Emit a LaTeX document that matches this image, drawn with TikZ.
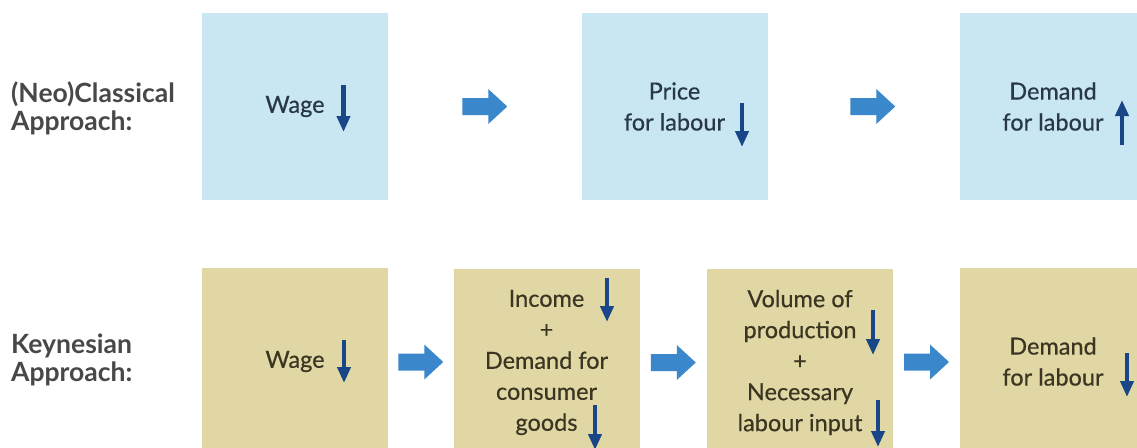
\documentclass[tikz,border=0pt]{standalone}
\usepackage{fontspec}
\setmainfont{Lato}
\newfontfamily\boxfont[FakeBold=0.5]{Lato}
\usetikzlibrary{calc,arrows.meta}
\definecolor{boxblue}{RGB}{201,230,243}
\definecolor{boxtan}{RGB}{224,215,164}
\definecolor{arrblue}{RGB}{58,135,204}
\definecolor{navy}{RGB}{24,70,135}
\definecolor{txtblue}{RGB}{40,56,72}
\definecolor{txttan}{RGB}{58,54,34}
\definecolor{lblgray}{RGB}{72,72,72}
\begin{document}
\begin{tikzpicture}[x=1pt,y=-1pt,
  box/.style={rectangle, minimum width=186pt, minimum height=187pt, inner sep=0pt,
    align=center, font=\boxfont\fontsize{23.5}{31}\selectfont},
  neobox/.style={box, fill=boxblue, text=txtblue},
  keybox/.style={box, fill=boxtan, text=txttan},
  approach/.style={anchor=west, align=left, text=lblgray, inner sep=0pt,
    font=\bfseries\fontsize{26.5}{28}\selectfont},
  updown/.style={draw=navy, line width=4.5pt, -{Triangle[width=13pt,length=16pt]}},
  bigarr/.pic={\fill[arrblue] (-22.5,-8.5) -- (3.5,-8.5) -- (3.5,-17.5) -- (22.5,0)
     -- (3.5,17.5) -- (3.5,8.5) -- (-22.5,8.5) -- cycle;}
]
\clip (0,0) rectangle (1137,447);
\fill[white] (0,0) rectangle (1137,447);

% labels
\node[approach] (lneo) at (11,108) {(Neo)Classical\\Approach:};
\node[approach] (lkey) at (11,360) {Keynesian\\Approach:};

% top row
\node[neobox] (t1) at (295,106.5) {Wage};
\node[neobox] (t2) at (674.5,106.5) {Price\\for labour};
\node[neobox] (t3) at (1053,106.5) {Demand\\for labour};

% bottom row
\node[keybox] (k1) at (295,361.5) {Wage};
\node[keybox] (k2) at (546.5,362.5) {Income\\+\\Demand for\\consumer\\goods};
\node[keybox] (k3) at (800,362.5) {Volume of\\production\\+\\Necessary\\labour input};
\node[keybox] (k4) at (1053,361.5) {Demand\\for labour};

% big arrows
\pic at ($(t1.east)!0.5!(t2.west)$) {bigarr};
\pic at ($(t2.east)!0.5!(t3.west)+(9,0)$) {bigarr};
\pic at ($(k1.east)!0.5!(k2.west)$) {bigarr};
\pic at ($(k2.east)!0.5!(k3.west)$) {bigarr};
\pic at ($(k3.east)!0.5!(k4.west)$) {bigarr};

% small arrows
\draw[updown] (343.5,85) -- (343.5,132);
\draw[updown] (742,103) -- (742,147);
\draw[updown] (1122,145) -- (1122,100);
\draw[updown] (344,340) -- (344,383);
\draw[updown] (607,278) -- (607,322);
\draw[updown] (595,405) -- (595,450);
\draw[updown] (873,310) -- (873,355);
\draw[updown] (878,400) -- (878,447);
\draw[updown] (1127,353) -- (1127,397);
\end{tikzpicture}
\end{document}
